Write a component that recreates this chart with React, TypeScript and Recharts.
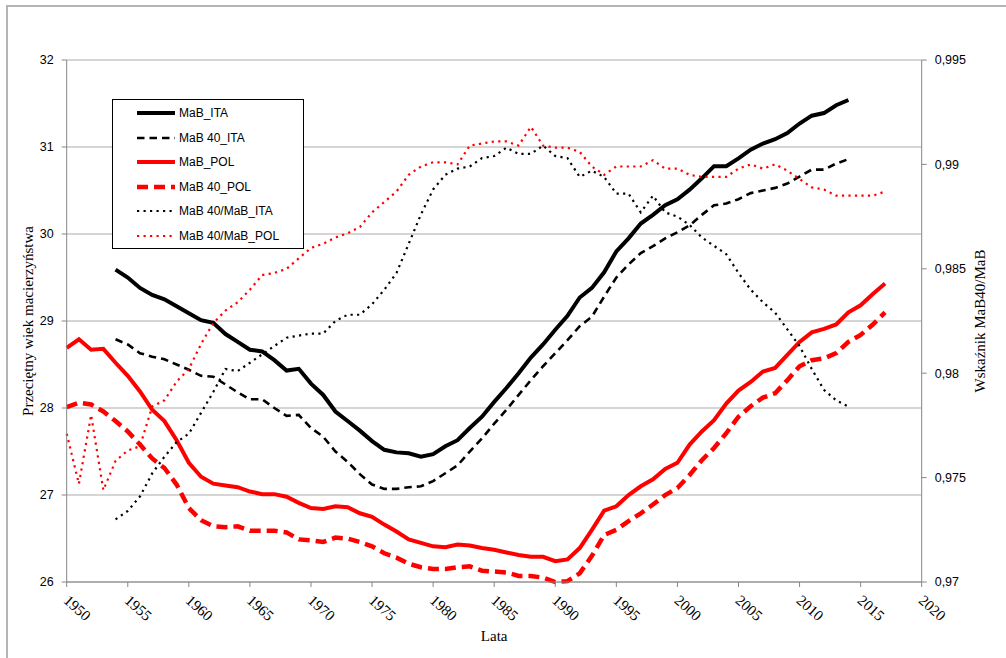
import { CartesianGrid, Label, Legend, Line, LineChart, XAxis, YAxis } from 'recharts';

// lata 1950-2017
const YEARS = [
  1950, 1951, 1952, 1953, 1954, 1955, 1956, 1957, 1958, 1959,
  1960, 1961, 1962, 1963, 1964, 1965, 1966, 1967, 1968, 1969,
  1970, 1971, 1972, 1973, 1974, 1975, 1976, 1977, 1978, 1979,
  1980, 1981, 1982, 1983, 1984, 1985, 1986, 1987, 1988, 1989,
  1990, 1991, 1992, 1993, 1994, 1995, 1996, 1997, 1998, 1999,
  2000, 2001, 2002, 2003, 2004, 2005, 2006, 2007, 2008, 2009,
  2010, 2011, 2012, 2013, 2014, 2015, 2016, 2017,
];

const MAB_ITA = [
  null, null, null, null, 29.59, 29.5, 29.38, 29.3, 29.25, 29.17,
  29.09, 29.01, 28.98, 28.85, 28.76, 28.67, 28.65, 28.55, 28.43, 28.45,
  28.28, 28.15, 27.96, 27.85, 27.74, 27.62, 27.52, 27.49, 27.48, 27.44,
  27.47, 27.56, 27.63, 27.77, 27.9, 28.07, 28.23, 28.4, 28.58, 28.73,
  28.9, 29.06, 29.27, 29.38, 29.56, 29.8, 29.95, 30.12, 30.22, 30.33,
  30.4, 30.51, 30.64, 30.78, 30.78, 30.87, 30.97, 31.04, 31.09, 31.16,
  31.27, 31.36, 31.39, 31.48, 31.54, null, null, null,
];

const MAB40_ITA = [
  null, null, null, null, 28.79, 28.73, 28.63, 28.59, 28.56, 28.5,
  28.44, 28.37, 28.36, 28.27, 28.18, 28.1, 28.1, 28.0, 27.91, 27.92,
  27.77, 27.67, 27.5, 27.38, 27.24, 27.12, 27.07, 27.07, 27.09, 27.1,
  27.16, 27.25, 27.34, 27.5, 27.65, 27.82, 27.98, 28.15, 28.32, 28.48,
  28.63, 28.78, 28.94, 29.05, 29.28, 29.5, 29.65, 29.78, 29.86, 29.95,
  30.02, 30.1, 30.22, 30.33, 30.35, 30.4, 30.47, 30.5, 30.53, 30.58,
  30.66, 30.74, 30.74, 30.81, 30.86, null, null, null,
];

const MAB_POL = [
  28.69, 28.79, 28.67, 28.68, 28.52, 28.37, 28.19, 27.98, 27.85, 27.63,
  27.37, 27.21, 27.13, 27.11, 27.09, 27.04, 27.01, 27.01, 26.98, 26.91,
  26.85, 26.84, 26.87, 26.86, 26.79, 26.75, 26.66, 26.58, 26.49, 26.45,
  26.41, 26.4, 26.43, 26.42, 26.39, 26.37, 26.34, 26.31, 26.29, 26.29,
  26.24, 26.26, 26.39, 26.6, 26.82, 26.87, 27.0, 27.1, 27.18, 27.3,
  27.37, 27.58, 27.73, 27.86, 28.05, 28.2, 28.3, 28.42, 28.46, 28.61,
  28.76, 28.87, 28.91, 28.96, 29.1, 29.18, 29.31, 29.43,
];

const MAB40_POL = [
  28.01, 28.06, 28.04, 27.96, 27.85, 27.73, 27.58, 27.42, 27.31, 27.12,
  26.85, 26.71, 26.64, 26.63, 26.64, 26.59, 26.59, 26.59, 26.57, 26.49,
  26.48, 26.46, 26.51, 26.5, 26.46, 26.41, 26.33, 26.28, 26.21, 26.17,
  26.15, 26.15, 26.17, 26.18, 26.13, 26.12, 26.11, 26.07, 26.07, 26.05,
  26.0, 26.01, 26.1, 26.3, 26.54, 26.6, 26.7, 26.79, 26.89, 27.0,
  27.08, 27.23, 27.4, 27.54, 27.71, 27.9, 28.02, 28.12, 28.17, 28.32,
  28.48, 28.55, 28.57, 28.63, 28.76, 28.84, 28.96, 29.1,
];

const RATIO_ITA = [
  null, null, null, null, 0.973, 0.9734, 0.9741, 0.9752, 0.976, 0.9767,
  0.9771, 0.9781, 0.9791, 0.9802, 0.9801, 0.9805, 0.9809, 0.9813, 0.9817, 0.9818,
  0.9819, 0.9819, 0.9825, 0.9828, 0.9828, 0.9833, 0.984, 0.9848, 0.9862, 0.9876,
  0.9888, 0.9895, 0.9898, 0.9899, 0.9903, 0.9904, 0.9908, 0.9905, 0.9905, 0.9909,
  0.9904, 0.9903, 0.9894, 0.9897, 0.9894, 0.9886, 0.9886, 0.9877, 0.9885, 0.9877,
  0.9875, 0.9871, 0.9865, 0.9861, 0.9857, 0.9848, 0.984, 0.9834, 0.9829, 0.9821,
  0.9813, 0.9802, 0.9792, 0.9787, 0.9784, null, null, null,
];

const RATIO_POL = [
  0.9771, 0.9747, 0.978, 0.9744, 0.9758, 0.9763, 0.9765, 0.9784, 0.9787, 0.9796,
  0.9802, 0.9814, 0.9824, 0.983, 0.9834, 0.984, 0.9847, 0.9848, 0.985, 0.9855,
  0.986, 0.9862, 0.9865, 0.9867, 0.987, 0.9877, 0.9882, 0.9887, 0.9895, 0.9899,
  0.9901, 0.9901, 0.99, 0.9909, 0.991, 0.9911, 0.9911, 0.9909, 0.9918, 0.9909,
  0.9908, 0.9908, 0.9906, 0.9899, 0.9895, 0.9899, 0.9899, 0.9899, 0.9902, 0.9898,
  0.9898, 0.9895, 0.9894, 0.9894, 0.9894, 0.9898, 0.99, 0.9898, 0.99, 0.9897,
  0.9893, 0.9889, 0.9888, 0.9885, 0.9885, 0.9885, 0.9885, 0.9887,
];

const X_TICKS = [1950, 1955, 1960, 1965, 1970, 1975, 1980, 1985, 1990, 1995, 2000, 2005, 2010, 2015, 2020];
const LEFT_TICKS = [26, 27, 28, 29, 30, 31, 32];
const RIGHT_TICKS = [0.97, 0.975, 0.98, 0.985, 0.99, 0.995];

const SERIES = [
  { key: 'mabIta', name: 'MaB_ITA', color: '#000000', width: 4, dash: undefined, axis: 'left' },
  { key: 'mab40Ita', name: 'MaB 40_ITA', color: '#000000', width: 2.6, dash: '7.5 5', axis: 'left' },
  { key: 'mabPol', name: 'MaB_POL', color: '#ff0000', width: 4, dash: undefined, axis: 'left' },
  { key: 'mab40Pol', name: 'MaB 40_POL', color: '#ff0000', width: 4.5, dash: '11 6', axis: 'left' },
  { key: 'ratioIta', name: 'MaB 40/MaB_ITA', color: '#000000', width: 2.2, dash: '2.2 4.3', axis: 'right' },
  { key: 'ratioPol', name: 'MaB 40/MaB_POL', color: '#ff0000', width: 2.2, dash: '2.2 4.3', axis: 'right' },
];

const data = YEARS.map((year, i) => ({
  year,
  mabIta: MAB_ITA[i],
  mab40Ita: MAB40_ITA[i],
  mabPol: MAB_POL[i],
  mab40Pol: MAB40_POL[i],
  ratioIta: RATIO_ITA[i],
  ratioPol: RATIO_POL[i],
}));

const SANS = '"Liberation Sans", Arial, sans-serif';
const SERIF = '"Liberation Serif", "Times New Roman", serif';
const AXIS_GREY = '#868686';

function YearTick({ x, y, payload }: any) {
  return (
    <g transform={`translate(${x + 2},${y})`}>
      <text
        x={0}
        y={0}
        dy={9}
        transform="rotate(42)"
        textAnchor="start"
        fontFamily={SERIF}
        fontSize={15}
        fill="#000"
      >
        {payload.value}
      </text>
    </g>
  );
}

function LegendBox() {
  return (
    <div
      style={{
        width: 190,
        height: 147,
        paddingTop: 1,
        border: '1px solid #000',
        background: '#fff',
        fontFamily: SANS,
        fontSize: 12,
        color: '#000',
      }}
    >
      {SERIES.map((s) => (
        <div key={s.key} style={{ display: 'flex', alignItems: 'center', height: 24.5 }}>
          <svg width={66} height={10} style={{ display: 'block' }}>
            <line
              x1={24}
              x2={62}
              y1={5}
              y2={5}
              stroke={s.color}
              strokeWidth={s.width}
              strokeDasharray={s.dash}
            />
          </svg>
          <span>{s.name}</span>
        </div>
      ))}
    </div>
  );
}

export default function App() {
  return (
    <div style={{ position: 'absolute', left: 0, top: 0, width: 1006, height: 658, background: '#fff' }}>
      <LineChart width={1006} height={658} data={data} margin={{ top: 60, right: 0, bottom: 16, left: 0 }}>
        <CartesianGrid yAxisId="left" vertical={false} stroke="#ababab" strokeWidth={1.2} />
        <XAxis
          dataKey="year"
          type="number"
          domain={[1950, 2020]}
          ticks={X_TICKS}
          interval={0}
          height={60}
          stroke={AXIS_GREY}
          tickSize={5}
          tickMargin={8}
          tick={<YearTick />}
        >
          <Label value="Lata" position="insideBottom" offset={1} style={{ fontFamily: SERIF, fontSize: 15, fill: '#000' }} />
        </XAxis>
        <YAxis
          yAxisId="left"
          domain={[26, 32]}
          ticks={LEFT_TICKS}
          interval={0}
          width={66.7}
          stroke={AXIS_GREY}
          tickSize={5}
          tickMargin={8}
          tick={{ fontFamily: SANS, fontSize: 12.5, fill: '#000' }}
        >
          <Label
            value="Przeciętny wiek macierzyństwa"
            angle={-90}
            position="insideLeft"
            offset={28}
            style={{ fontFamily: SERIF, fontSize: 15, fill: '#000', textAnchor: 'middle' }}
          />
        </YAxis>
        <YAxis
          yAxisId="right"
          orientation="right"
          domain={[0.97, 0.995]}
          ticks={RIGHT_TICKS}
          interval={0}
          width={84.3}
          stroke={AXIS_GREY}
          tickSize={5}
          tickMargin={8}
          tickFormatter={(v: number) => String(v).replace('.', ',')}
          tick={{ fontFamily: SANS, fontSize: 12.5, fill: '#000' }}
        >
          <Label
            value="Wskaźnik  MaB40/MaB"
            angle={-90}
            position="insideRight"
            offset={26}
            style={{ fontFamily: SERIF, fontSize: 15, fill: '#000', textAnchor: 'middle' }}
          />
        </YAxis>
        {SERIES.map((s) => (
          <Line
            key={s.key}
            yAxisId={s.axis}
            dataKey={s.key}
            name={s.name}
            type="linear"
            stroke={s.color}
            strokeWidth={s.width}
            strokeDasharray={s.dash}
            dot={false}
            activeDot={false}
            isAnimationActive={false}
          />
        ))}
        <Legend
          layout="vertical"
          align="center"
          verticalAlign="middle"
          content={<LegendBox />}
          wrapperStyle={{ left: 112, top: 99, width: 192, height: 149 }}
        />
      </LineChart>
      <div
        style={{
          position: 'absolute',
          left: 6,
          top: 5,
          right: 0,
          bottom: 0,
          borderTop: '2px solid #b4b4b4',
          borderLeft: '2px solid #b4b4b4',
          pointerEvents: 'none',
          zIndex: 2,
        }}
      />
    </div>
  );
}
